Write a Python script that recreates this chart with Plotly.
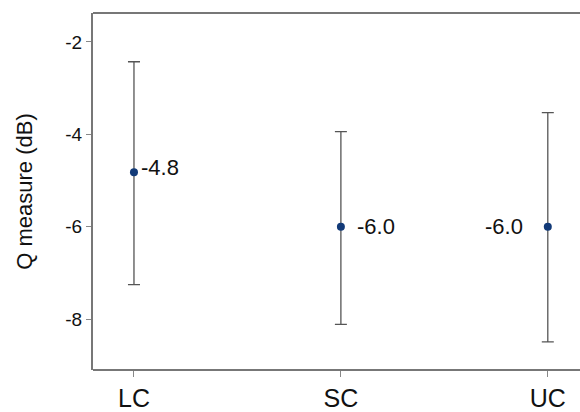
import plotly.graph_objects as go

categories = ["LC", "SC", "UC"]
means = [-4.82, -6.0, -6.0]
upper = [-2.43, -3.94, -3.53]
lower = [-7.25, -8.11, -8.49]
labels = ["-4.8", "-6.0", "-6.0"]
label_side = ["right", "right", "left"]
label_shift = [5, 14, -23]
label_yshift = [5, 0, 0]
ytick_vals = [-8, -6, -4, -2]
ytick_text = ["-8", "-6", "-4", "-2"]

xs = list(range(len(categories)))
err_plus = [u - m for u, m in zip(upper, means)]
err_minus = [m - l for m, l in zip(means, lower)]

FONT = "Liberation Sans, Arial, sans-serif"

fig = go.Figure()
fig.add_trace(go.Scatter(
    x=xs, y=means, mode="markers",
    marker=dict(color="#123a78", size=8),
    error_y=dict(type="data", symmetric=False, array=err_plus, arrayminus=err_minus,
                 color="#555555", thickness=1.3, width=6),
    showlegend=False, cliponaxis=False,
))

for x, m, t, side, sh, ysh in zip(xs, means, labels, label_side, label_shift, label_yshift):
    fig.add_annotation(
        x=x, y=m, text=t, showarrow=False,
        xanchor="left" if side == "right" else "right",
        xshift=sh, yshift=ysh,
        font=dict(family=FONT, size=22, color="#111111"),
    )

# top and bottom border lines of the plot frame (run off the right edge)
for yy in (0, 1):
    fig.add_shape(type="line", xref="paper", yref="paper", x0=0, x1=1.05, y0=yy, y1=yy,
                  line=dict(color="#777777", width=2))

fig.update_layout(
    width=580, height=412,
    margin=dict(l=93, r=0, t=13, b=39, pad=0),
    paper_bgcolor="white", plot_bgcolor="white",
    font=dict(family=FONT, color="#111111"),
)
fig.update_xaxes(
    domain=[0, 0.97],
    range=[-0.198, 2.085],
    tickvals=xs, ticktext=categories,
    showgrid=False, zeroline=False, showline=False,
    ticks="outside", ticklen=6, tickcolor="#888888", tickwidth=1,
    tickfont=dict(size=25, color="#111111"),
)
fig.update_yaxes(
    range=[-9.097, -1.376],
    tickvals=ytick_vals, ticktext=ytick_text,
    showgrid=False, zeroline=False,
    showline=True, linecolor="#777777", linewidth=2, mirror=False,
    ticks="outside", ticklen=5, tickcolor="#888888", tickwidth=1,
    tickfont=dict(size=19, color="#111111"),
    title=dict(text="Q measure (dB)", font=dict(size=22, color="#111111"), standoff=27),
)

fig.write_html("out.html")
